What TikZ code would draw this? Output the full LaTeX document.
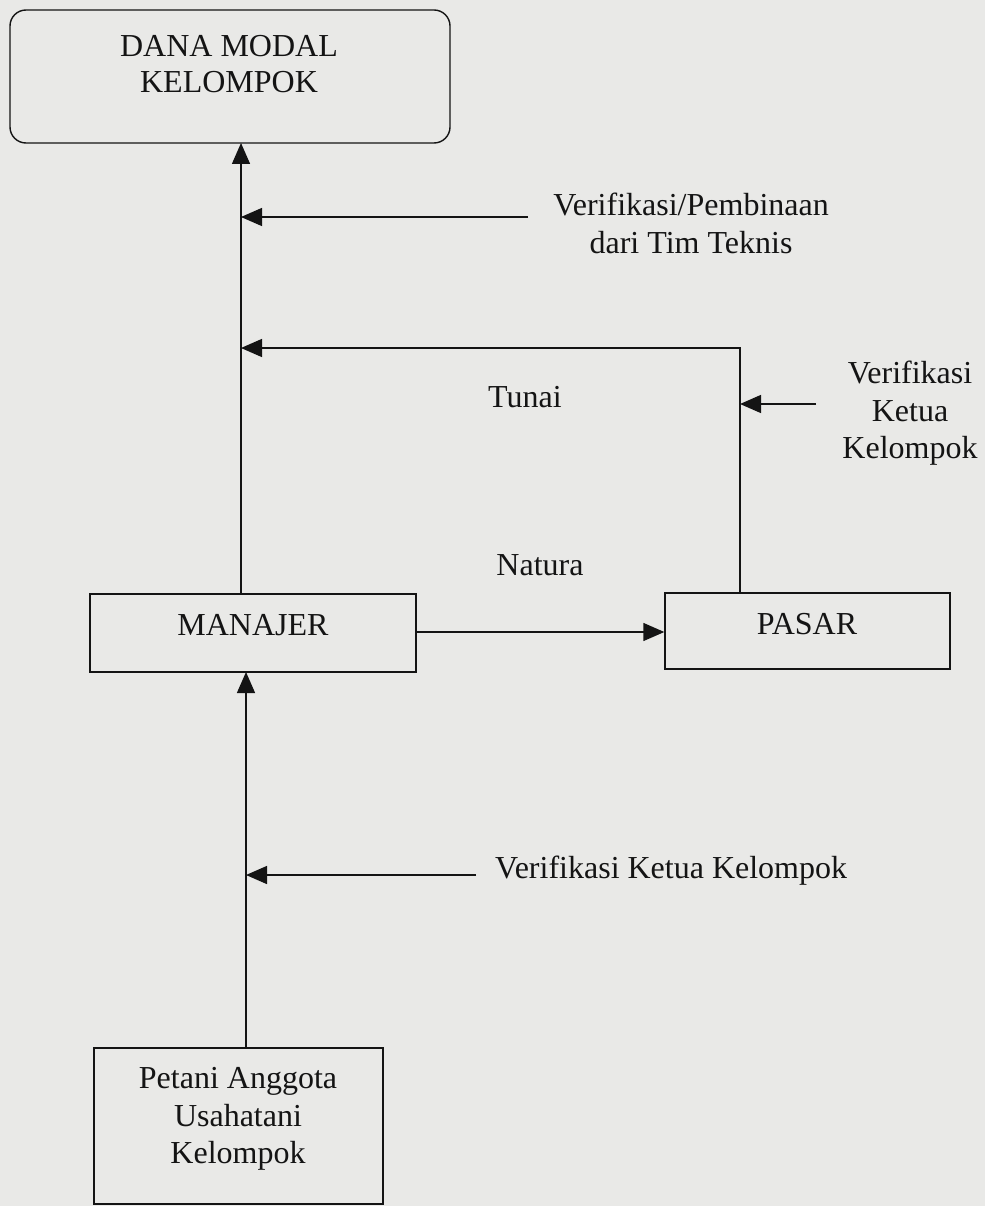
\documentclass[tikz,border=0pt]{standalone}
\usepackage{fontspec}
\setmainfont{Liberation Serif}
\usetikzlibrary{arrows.meta}
\definecolor{paper}{RGB}{233,233,231}
\definecolor{ink}{RGB}{20,20,20}
\begin{document}
\begin{tikzpicture}[x=1pt,y=-1pt,
  lbl/.style={font=\fontsize{32}{37.5}\selectfont, text=ink, align=center, inner sep=0pt},
  boxshape/.style={draw=ink, line width=1.4pt, inner sep=0pt},
  conn/.style={draw=ink, line width=1.4pt},
  arr/.style={conn, -{Triangle[length=21pt,width=18pt]}}]
\fill[paper] (0,0) rectangle (985,1206);
\useasboundingbox (0,0) rectangle (985,1206);
% boxes
\node[boxshape, rounded corners=16pt, minimum width=440pt, minimum height=133pt] (dana) at (230,76.5) {};
\node[lbl, anchor=base] (danatxt) at (229,57) {DANA MODAL};
\node[lbl, anchor=base] (danatxt2) at (229,93) {KELOMPOK};
\node[boxshape, minimum width=326pt, minimum height=78pt] (manajer) at (253,633) {};
\node[lbl, anchor=base] (manajertxt) at (253,635) {MANAJER};
\node[boxshape, minimum width=285pt, minimum height=76pt] (pasar) at (807.5,631) {};
\node[lbl, anchor=base] (pasartxt) at (807,634) {PASAR};
\node[boxshape, minimum width=289pt, minimum height=156pt] (petani) at (238.5,1126) {};
\node[lbl, anchor=base] (pt1) at (238,1088) {Petani Anggota};
\node[lbl, anchor=base] (pt2) at (238,1126) {Usahatani};
\node[lbl, anchor=base] (pt3) at (238,1163) {Kelompok};
% labels
\node[lbl, anchor=base] (v1a) at (691,215) {Verifikasi/Pembinaan};
\node[lbl, anchor=base] (v1b) at (691,253) {dari Tim Teknis};
\node[lbl, anchor=base] (tunai) at (525,407) {Tunai};
\node[lbl, anchor=base] (natura) at (540,575) {Natura};
\node[lbl, anchor=base] (v2a) at (910,383) {Verifikasi};
\node[lbl, anchor=base] (v2b) at (910,421) {Ketua};
\node[lbl, anchor=base] (v2c) at (910,458) {Kelompok};
\node[lbl, anchor=base west] (v3) at (495,878) {Verifikasi Ketua Kelompok};
% coordinates
\coordinate (mtop) at (241,594);
\coordinate (dbot) at (241,143);
\coordinate (j1) at (241,217);
\coordinate (s1) at (528,217);
\coordinate (j2) at (241,348);
\coordinate (corner) at (740,348);
\coordinate (ptop) at (740,593);
\coordinate (j3) at (740,404);
\coordinate (s3) at (816,404);
\coordinate (petop) at (246,1048);
\coordinate (mbot) at (246,672);
\coordinate (j4) at (246,875);
\coordinate (s4) at (476,875);
% connectors
\draw[arr] (mtop) -- (dbot);
\draw[arr] (s1) -- (j1);
\draw[arr] (ptop) -- (corner) -- (j2);
\draw[arr] (s3) -- (j3);
\draw[arr] (manajer.east |- 0,632) -- (pasar.west |- 0,632);
\draw[arr] (petop) -- (mbot);
\draw[arr] (s4) -- (j4);
\end{tikzpicture}
\end{document}
